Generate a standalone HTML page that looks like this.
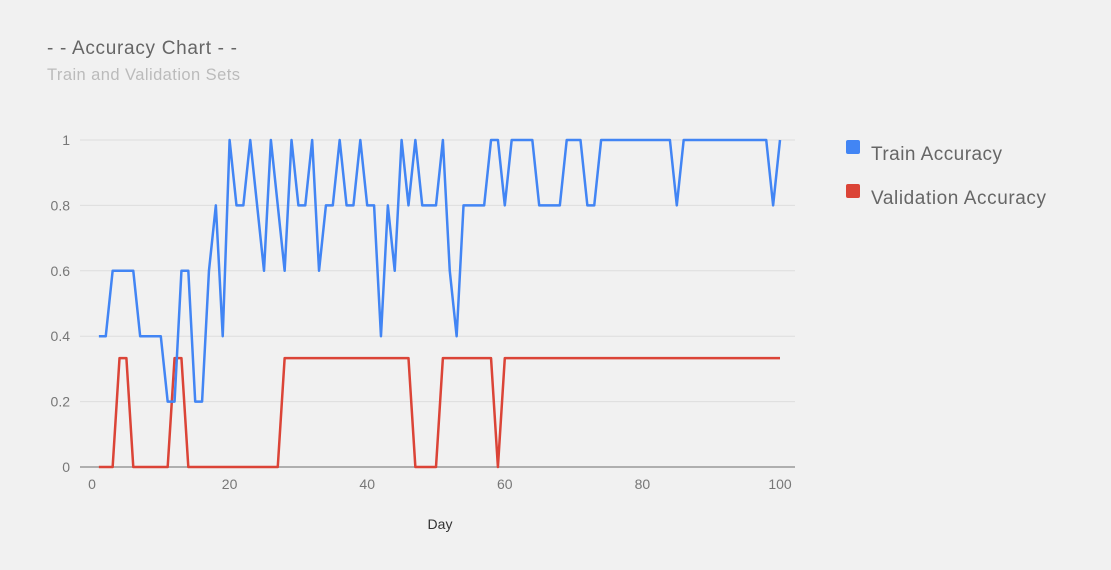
<!DOCTYPE html>
<html><head><meta charset="utf-8">
<style>
html,body{margin:0;padding:0;background:#f1f1f1;}
svg{display:block;font-family:"Liberation Sans",sans-serif;}
</style></head>
<body>
<svg id="chart" width="1111" height="570" xmlns="http://www.w3.org/2000/svg">
<rect width="1111" height="570" fill="#f1f1f1"/>
<text x="47" y="54" font-size="19" fill="#666" textLength="190">- - Accuracy Chart - -</text>
<text x="47" y="80" font-size="16.5" fill="#bbb" textLength="193">Train and Validation Sets</text>
<g id="grid"></g>
<g id="xticks"></g>
<g id="series"></g>
<text x="440" y="529" font-size="14" fill="#333" text-anchor="middle">Day</text>
<g>
<rect x="846" y="140" width="14" height="14" rx="2" fill="#4285f4"/>
<text x="871" y="160" font-size="19" fill="#666" textLength="131">Train Accuracy</text>
<rect x="846" y="184" width="14" height="14" rx="2" fill="#db4437"/>
<text x="871" y="204" font-size="19" fill="#666" textLength="175">Validation Accuracy</text>
</g>
</svg>
<script>
const yTicks = [0, 0.2, 0.4, 0.6, 0.8, 1];
const yTickLabels = ["0", "0.2", "0.4", "0.6", "0.8", "1"];
const xTicks = [0, 20, 40, 60, 80, 100];
const trainAccuracy = [0.4,0.4,0.6,0.6,0.6,0.6,0.4,0.4,0.4,0.4,0.2,0.2,0.6,0.6,0.2,0.2,0.6,0.8,0.4,1,
0.8,0.8,1,0.8,0.6,1,0.8,0.6,1,0.8,0.8,1,0.6,0.8,0.8,1,0.8,0.8,1,0.8,
0.8,0.4,0.8,0.6,1,0.8,1,0.8,0.8,0.8,1,0.6,0.4,0.8,0.8,0.8,0.8,1,1,0.8,
1,1,1,1,0.8,0.8,0.8,0.8,1,1,1,0.8,0.8,1,1,1,1,1,1,1,
1,1,1,1,0.8,1,1,1,1,1,1,1,1,1,1,1,1,1,0.8,1];
const validationAccuracy = [0,0,0,0.333,0.333,0,0,0,0,0,0,0.333,0.333,0,0,0,0,0,0,0,
0,0,0,0,0,0,0,0.333,0.333,0.333,0.333,0.333,0.333,0.333,0.333,0.333,0.333,0.333,0.333,0.333,
0.333,0.333,0.333,0.333,0.333,0.333,0,0,0,0,0.333,0.333,0.333,0.333,0.333,0.333,0.333,0.333,0,0.333,
0.333,0.333,0.333,0.333,0.333,0.333,0.333,0.333,0.333,0.333,0.333,0.333,0.333,0.333,0.333,0.333,0.333,0.333,0.333,0.333,
0.333,0.333,0.333,0.333,0.333,0.333,0.333,0.333,0.333,0.333,0.333,0.333,0.333,0.333,0.333,0.333,0.333,0.333,0.333,0.333];

const NS = "http://www.w3.org/2000/svg";
const X0 = 92, X1 = 780, Y0 = 467, Y1 = 140;
function xScale(d){ return X0 + (d/100)*(X1-X0); }
function yScale(v){ return Y0 - v*(Y0-Y1); }
function mk(tag, attrs){ const e = document.createElementNS(NS, tag); for (const k in attrs) e.setAttribute(k, attrs[k]); return e; }

const grid = document.getElementById('grid');
yTicks.forEach((t,i)=>{
  const y = yScale(t);
  const line = mk('line', {x1:80, x2:795, y1:y, y2:y, stroke: t===0 ? '#999' : '#ddd', 'stroke-width': t===0?1.5:1});
  
  
  grid.appendChild(line);
  const lab = mk('text', {x:70, y:y+5, 'font-size':14, fill:'#777', 'text-anchor':'end'});
  
  
  lab.textContent = yTickLabels[i];
  grid.appendChild(lab);
});
const xt = document.getElementById('xticks');
xTicks.forEach(t=>{
  const lab = mk('text', {x:xScale(t), y:489, 'font-size':14, fill:'#777', 'text-anchor':'middle'});
  
  
  lab.textContent = String(t);
  xt.appendChild(lab);
});
const series = document.getElementById('series');
function drawLine(data, color, name){
  const pts = data.map((v,i)=> xScale(i+1).toFixed(2)+','+yScale(v).toFixed(2)).join(' ');
  const pl = mk('polyline', {points:pts, fill:'none', stroke:color, 'stroke-width':2.5, 'stroke-linejoin':'round'});
  
  
  series.appendChild(pl);
}
drawLine(validationAccuracy, '#db4437', 'validation-accuracy-line');
drawLine(trainAccuracy, '#4285f4', 'train-accuracy-line');
</script>
</body></html>
